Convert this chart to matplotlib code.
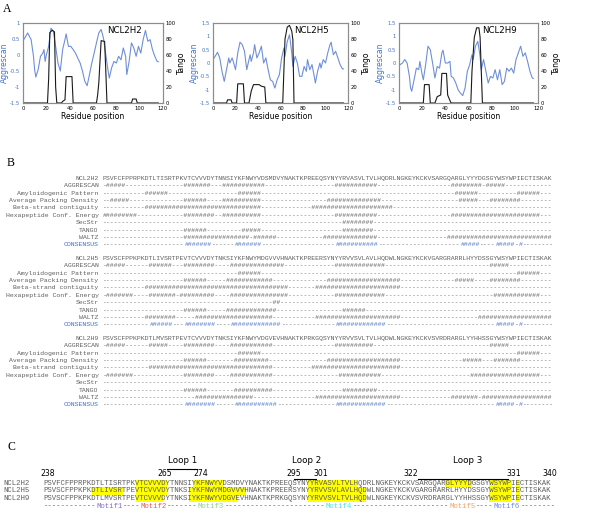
import matplotlib as mpl
mpl.use('Agg')
import matplotlib.pyplot as plt
from matplotlib.patches import Rectangle
from matplotlib.ticker import FuncFormatter

# ---------------- panel A: Aggrescan (blue) and Tango (black) profiles
agg_h2_res = [1, 4, 7, 9, 10, 11, 13, 15, 17, 18, 19, 20, 22, 24, 26, 28, 30, 32, 34, 36, 37, 39,
              41, 43, 45, 47, 49, 51, 53, 55, 57, 59, 61, 63, 65, 67, 69, 70, 72, 73, 74, 76, 78,
              80, 82, 84, 86, 88, 89, 91, 93, 95, 97, 99, 101, 103, 105, 107, 109, 111, 113, 115, 116]
agg_h2_val = [0.50, 0.69, 0.48, -0.04, -0.46, -0.69, -0.46, -0.04, 0.06, 0.17, -0.20, 0.00, 0.27,
              0.84, 0.74, 0.27, -0.25, -0.50, 0.17, 0.48, 0.66, 0.27, 0.27, 0.17, 0.06, -0.10,
              -0.25, -0.50, -0.82, -0.96, -0.61, -0.25, 0.06, 0.38, 0.69, 0.80, 0.53, 0.27, -0.25,
              -0.50, -0.72, -0.40, -0.20, -0.25, -0.04, -0.15, 0.22, -0.04, -0.61, -0.20, 0.38,
              0.22, -0.04, 0.27, 0.06, 0.48, 0.77, 0.43, 0.48, 0.17, -0.04, -0.20, -0.21]

agg_h5_res = [1, 4, 6, 8, 10, 12, 14, 15, 17, 18, 20, 22, 24, 26, 28, 30, 32, 33, 34, 36, 37, 39,
              41, 43, 45, 47, 49, 51, 53, 55, 57, 59, 61, 63, 64, 66, 68, 70, 71, 73, 75, 77, 79,
              81, 83, 84, 86, 88, 90, 91, 93, 95, 96, 98, 100, 102, 104, 105, 107, 109, 111, 113,
              115, 116]
agg_h5_val = [0.19, 0.40, 0.19, -0.31, -0.69, -0.25, 0.19, 0.00, 0.19, 0.06, -0.25, 0.38, 0.78,
              0.69, 0.44, -0.25, 0.13, 0.31, 0.06, 0.38, 0.69, 0.19, 0.38, 0.63, 0.00, 0.19,
              -0.25, -0.63, -0.69, -0.94, -0.63, -0.44, 0.19, 0.56, 0.25, 0.81, 1.06, 0.38, -0.13,
              0.25, 0.00, -0.50, -0.50, -0.13, -0.31, 0.13, -0.25, -0.06, -0.50, -0.75, -0.31,
              0.00, -0.19, 0.13, 0.00, 0.38, 0.69, 0.78, 0.31, 0.44, 0.19, -0.06, -0.22, -0.22]

agg_h9_res = [1, 3, 5, 7, 9, 10, 11, 13, 15, 17, 18, 20, 21, 23, 25, 27, 29, 31, 33, 35, 37, 38,
              40, 42, 44, 45, 47, 49, 51, 53, 55, 57, 59, 61, 63, 64, 66, 68, 70, 71, 73, 75, 77,
              79, 81, 83, 85, 87, 89, 91, 93, 95, 97, 99, 101, 103, 105, 107, 109, 111, 113, 115,
              116]
agg_h9_val = [-0.06, 0.00, 0.13, 0.00, -0.50, -0.94, -1.06, -0.63, -0.19, -0.25, 0.06, -0.44,
              -0.63, -0.06, 0.63, 0.50, 0.00, -0.56, -0.13, -0.19, 0.38, 0.48, 0.00, 0.00, 0.06,
              -0.50, -0.56, -0.75, -1.00, -1.13, -1.22, -0.94, -0.31, -0.06, 0.31, 0.13, 0.63,
              0.81, 0.25, -0.25, 0.13, -0.31, -0.75, -0.50, -0.56, -0.25, -0.63, -0.25, -0.81,
              -0.69, -0.19, -0.31, -0.19, -0.38, 0.13, 0.38, 0.63, 0.25, 0.38, 0.06, -0.31,
              -0.56, -0.58]

tango_h2_res = [1, 21, 22, 23, 25, 27, 28, 29, 33, 34, 36, 37, 42, 43, 63, 64, 65, 67, 70, 71, 72,
                93, 94, 97, 98, 116]
tango_h2_val = [0, 0, 30, 88, 91, 89, 20, 0, 0, 2, 4, 33, 33, 0, 0, 10, 25, 78, 77, 40, 0,
                0, 5, 5, 0, 0]
tango_h5_res = [1, 12, 13, 16, 17, 21, 22, 27, 28, 32, 34, 36, 41, 43, 46, 47, 62, 63, 64, 66, 68,
                70, 71, 72, 116]
tango_h5_val = [0, 0, 4, 4, 0, 0, 24, 24, 0, 0, 15, 23, 23, 21, 20, 0, 0, 40, 80, 95, 97,
                90, 79, 0, 0]
tango_h9_res = [1, 21, 22, 26, 27, 31, 33, 36, 37, 41, 42, 44, 45, 62, 63, 65, 67, 69, 70, 72, 116]
tango_h9_val = [0, 0, 23, 23, 0, 0, 8, 10, 37, 37, 10, 3, 0, 0, 40, 82, 94, 94, 82, 0, 0]

# ---------------- sequences
proteins = ["NCL2H2", "NCL2H5", "NCL2H9"]
seq_h2 = "PSVFCFPPRPKDTLTISRTPKVTCVVVDYTNNSIYKFNWYVDSMDVYNAKTKPREEQSYNYYRVASVLTVLHQDRLNGKEYKCKVSARGQARGLYYYDGSGYWSYWPIECTISKAK"
seq_h5 = "PSVSCFPPKPKDTLIVSRTPEVTCVVVDYTNKSIYKFNWYMDGVVVHNAKTKPREERSYNYYRVVSVLAVLHQDWLNGKEYKCKVGARGRARRLHYYDSSGYWSYWPIECTISKAK"
seq_h9 = "PSVSCFPPKPKDTLMVSRTPEVTCVVVDYTNKSIYKFNWYVDGVEVHNAKTKPRKGQSYNYYRVVSVLTVLHQDWLNGKEYKCKVSVRDRARGLYYHHSSGYWSYWPIECTISKAK"

# ---------------- panel B: predictor hits, 0-based inclusive residue ranges
track_names = ["AGGRESCAN", "Amyloidogenic Pattern", "Average Packing Density",
               "Beta-strand contiguity", "Hexapeptide Conf. Energy", "SecStr", "TANGO",
               "WALTZ", "CONSENSUS"]
tracks_h2 = [
    [(1, 5), (21, 27), (31, 41), (60, 70), (90, 97), (99, 103)],
    [(11, 16), (35, 40), (91, 96), (107, 112)],
    [(2, 6), (21, 26), (31, 40), (58, 71), (92, 96), (100, 107)],
    [(11, 40), (54, 74)],
    [(0, 8), (21, 28), (31, 40), (60, 70), (90, 112)],
    [(62, 69)],
    [(21, 26), (36, 40), (62, 69)],
    [(21, 37), (39, 44), (57, 70), (89, 115)],
    [(21, 27), (34, 40), (60, 70), (92, 96), (101, 105), (107, 107)],
]
tracks_h5 = [
    [(1, 5), (12, 17), (21, 28), (33, 46), (60, 72), (100, 104)],
    [(35, 40), (107, 112)],
    [(21, 26), (32, 43), (58, 76), (91, 95), (100, 107)],
    [(11, 47), (55, 76)],
    [(1, 7), (12, 18), (20, 28), (33, 47), (60, 72), (101, 112)],
    [(44, 45)],
    [(21, 26), (32, 44), (62, 67)],
    [(11, 18), (24, 43), (55, 76), (97, 115)],
    [(12, 17), (21, 28), (33, 45), (60, 72), (101, 105), (107, 107)],
]
tracks_h9 = [
    [(1, 5), (12, 16), (21, 28), (33, 43), (60, 69), (100, 104)],
    [(35, 40), (107, 112)],
    [(21, 26), (34, 42), (58, 76), (93, 97), (101, 107)],
    [(12, 43), (54, 76)],
    [(1, 7), (21, 28), (33, 43), (61, 71), (95, 112)],
    [],
    [(21, 26), (34, 43), (62, 70)],
    [(24, 38), (55, 76), (90, 96), (98, 115)],
    [(21, 28), (34, 44), (60, 72), (101, 105), (107, 107)],
]

# ---------------- panel C: highlighted stretches, motifs and loops
hl_h2 = [(21, 27), (34, 40), (60, 70), (91, 96), (101, 105), (107, 107)]
hl_h5 = [(11, 17), (21, 27), (33, 45), (60, 72), (101, 105), (107, 107)]
hl_h9 = [(21, 26), (33, 43), (60, 72), (101, 105), (107, 107)]
motif_names = ["Motif1", "Motif2", "Motif3", "Motif4", "Motif5", "Motif6"]
motif_start = [12, 22, 35, 64, 92, 102]
motif_colors = ["#8e6fd0", "#e8615a", "#8fd28f", "#4fe3e8", "#f2a36b", "#6f8fe0"]
num_labels = ["238", "265", "274", "295", "301", "322", "331", "340"]
num_pos = [1.0, 27.4, 35.6, 56.7, 62.8, 83.2, 106.6, 114.7]
loop_names = ["Loop 1", "Loop 2", "Loop 3"]
loop_pos = [31.5, 59.6, 96.0]
loop_span = [(28.0, 34.9), (56.7, 61.7), (84.8, 105.2)]

blue = "#4472C4"
line_blue = "#6F8FD8"
grey = "#606060"
mono = "Liberation Mono"

fig = plt.figure(figsize=(6.0, 5.14), dpi=100)

def fmt(v, pos):
    return "%g" % v

def profile(rect, res, agg, t_res, t_val, ylim, yticks, name):
    ax = fig.add_axes(rect)
    ax.plot(res, agg, color=line_blue, lw=0.8)
    ax.set_xlim(0, 120)
    ax.set_ylim(*ylim)
    ax.set_xticks(range(0, 121, 20))
    ax.set_yticks(yticks)
    ax.yaxis.set_major_formatter(FuncFormatter(fmt))
    ax.tick_params(length=0, labelsize=3.8, pad=2)
    ax.tick_params(axis="y", labelcolor=blue)
    ax.set_ylabel("Aggrescan", color=blue, fontsize=5.5, labelpad=1)
    ax.set_xlabel("Residue position", fontsize=5.5, labelpad=1)
    ax2 = ax.twinx()
    ax2.plot(t_res, t_val, color="#1a1a1a", lw=0.8)
    ax2.set_ylim(0, 100)
    ax2.set_yticks(range(0, 101, 20))
    ax2.tick_params(length=0, labelsize=3.8, pad=2)
    ax2.set_ylabel("Tango", fontsize=5.5, labelpad=1)
    for a in (ax, ax2):
        for s in a.spines.values():
            s.set_color("#8c8c8c")
            s.set_linewidth(0.8)
    ax2.text(0.6, 0.91, name, transform=ax.transAxes, fontsize=6.2, va="center", ha="left")

profile([0.0383, 0.7996, 0.2333, 0.1556], agg_h2_res, agg_h2_val, tango_h2_res, tango_h2_val,
        (-1.5, 1.0), [-1.5, -1, -0.5, 0, 0.5, 1], "NCL2H2")
profile([0.355, 0.7996, 0.225, 0.1556], agg_h5_res, agg_h5_val, tango_h5_res, tango_h5_val,
        (-1.5, 1.5), [-1.5, -1, -0.5, 0, 0.5, 1, 1.5], "NCL2H5")
profile([0.665, 0.7996, 0.2317, 0.1556], agg_h9_res, agg_h9_val, tango_h9_res, tango_h9_val,
        (-1.5, 1.5), [-1.5, -1, -0.5, 0, 0.5, 1, 1.5], "NCL2H9")

# overlay in pixel coordinates for the text panels
tx = fig.add_axes([0, 0, 1, 1], zorder=-1)
tx.set_xlim(0, 600)
tx.set_ylim(514, 0)
tx.axis("off")

for lab, (x, y) in zip("ABC", [(7, 9), (11, 163), (11, 447)]):
    tx.text(x, y, lab, fontsize=8.5, family="Liberation Serif", ha="center", va="center")

def track_string(ranges, n):
    chars = ["-"] * n
    for a, b in ranges:
        for i in range(a, b + 1):
            chars[i] = "#"
    return "".join(chars)

def draw_runs(x0, cw, y, s, color_of, fs):
    # draw a string as runs of one colour each, side by side
    i = 0
    while i < len(s):
        c = color_of(i)
        j = i
        while j < len(s) and color_of(j) == c:
            j += 1
        tx.text(x0 + i * cw, y, s[i:j], fontsize=fs, family=mono, color=c,
                ha="left", va="center")
        i = j

# panel B
b_x0, b_cw, b_fs = 102.7, 3.89, 4.67
b_lab_x = 98.5
b_top = [178.3, 258.3, 338.3]
b_dy = 7.4
for name, seq, tracks, y0 in zip(proteins, [seq_h2, seq_h5, seq_h9],
                                 [tracks_h2, tracks_h5, tracks_h9], b_top):
    tx.text(b_lab_x, y0, name, fontsize=b_fs, family=mono, color=grey, ha="right", va="center")
    tx.text(b_x0, y0, seq, fontsize=b_fs, family=mono, color=grey, ha="left", va="center")
    for k, (tname, rngs) in enumerate(zip(track_names, tracks)):
        y = y0 + (k + 1) * b_dy
        s = track_string(rngs, len(seq))
        if tname == "CONSENSUS":
            tx.text(b_lab_x, y, tname, fontsize=b_fs, family=mono, color=blue, ha="right", va="center")
            draw_runs(b_x0, b_cw, y, s, lambda i, s=s: blue if s[i] == "#" else grey, b_fs)
        else:
            tx.text(b_lab_x, y, tname, fontsize=b_fs, family=mono, color=grey, ha="right", va="center")
            tx.text(b_x0, y, s, fontsize=b_fs, family=mono, color=grey, ha="left", va="center")

# panel C
c_x0, c_cw, c_fs = 43.3, 4.417, 5.3
c_rows = [483.3, 491.0, 498.5]
c_h = 7.6
for name, seq, hls, y in zip(proteins, [seq_h2, seq_h5, seq_h9], [hl_h2, hl_h5, hl_h9], c_rows):
    for a, b in hls:
        tx.add_patch(Rectangle((c_x0 + a * c_cw, y - c_h / 2), (b - a + 1) * c_cw, c_h,
                               facecolor="#FFFF00", edgecolor="none", zorder=1))
    tx.text(3, y, name, fontsize=c_fs, family=mono, color=grey, ha="left", va="center", zorder=2)
    tx.text(c_x0, y, seq, fontsize=c_fs, family=mono, color=grey, ha="left", va="center", zorder=2)

m_y = 506.0
motif_row = ["-"] * len(seq_h2)
motif_col = [grey] * len(seq_h2)
for nm, st, col in zip(motif_names, motif_start, motif_colors):
    for i, ch in enumerate(nm):
        motif_row[st + i] = ch
        motif_col[st + i] = col
draw_runs(c_x0, c_cw, m_y, "".join(motif_row), lambda i: motif_col[i], c_fs)

for lab, p in zip(num_labels, num_pos):
    tx.text(c_x0 + p * c_cw, 474.0, lab, fontsize=5.6, ha="center", va="center")
for lab, p in zip(loop_names, loop_pos):
    tx.text(c_x0 + p * c_cw, 460.5, lab, fontsize=6.3, ha="center", va="center")
for k, (a, b) in enumerate(loop_span):
    yl = 469.3 if k == 0 else 479.2
    tx.plot([c_x0 + a * c_cw, c_x0 + b * c_cw], [yl, yl], color="black", lw=0.8)

fig.savefig("out.png", dpi=100)
